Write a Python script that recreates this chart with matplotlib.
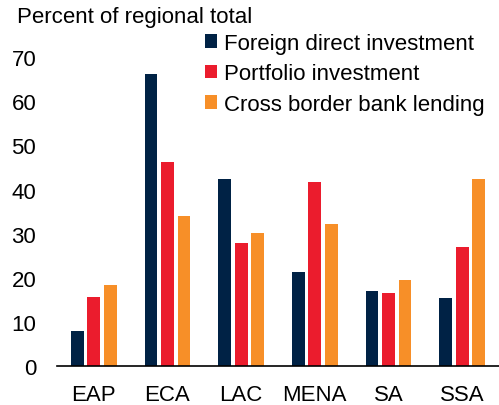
import matplotlib
matplotlib.use("Agg")
import matplotlib.pyplot as plt
import numpy as np

categories = ["EAP", "ECA", "LAC", "MENA", "SA", "SSA"]
series_names = ["Foreign direct investment", "Portfolio investment", "Cross border bank lending"]
fdi = [8.0, 66.1, 42.4, 21.4, 16.9, 15.5]
portfolio = [15.7, 46.2, 27.8, 41.8, 16.6, 27.0]
bank = [18.3, 34.0, 30.2, 32.2, 19.4, 42.4]
yticks = [0, 10, 20, 30, 40, 50, 60, 70]

colors = ["#002245", "#EB1C2D", "#F78F28"]
plt.rcParams['font.family'] = ['Liberation Sans', 'DejaVu Sans']
fs = 16

fig = plt.figure(figsize=(4.99, 4.06), dpi=100)
ax = fig.add_axes([57/499, 39/406, 1 - 57/499, (367 - 58.3)/406])

x = np.arange(len(categories))
w = 0.172
step = 0.226
handles = []
for i, (vals, c, name) in enumerate(zip([fdi, portfolio, bank], colors, series_names)):
    b = ax.bar(x + (i - 1) * step, vals, width=w, color=c, label=name, zorder=2)
    handles.append(b)

ax.set_xlim(-0.5, 5.5)
ax.set_ylim(0, 70)
ax.set_yticks(yticks)
ax.set_xticks(x)
ax.set_xticklabels(categories, fontsize=fs)
ax.tick_params(axis='y', length=0, pad=15, labelsize=fs)
ax.tick_params(axis='x', length=0, pad=13)
for s in ['top', 'right', 'left']:
    ax.spines[s].set_visible(False)
ax.spines['bottom'].set_color('black')
ax.spines['bottom'].set_linewidth(1.2)
ax.spines['bottom'].set_zorder(3)

fig.text(17/499, 1 - 18/406, "Percent of regional total", fontsize=fs, va='center', ha='left')

leg = fig.legend(handles=handles, labels=series_names, loc='upper left',
                 bbox_to_anchor=(205/499, 1 - 34/406), frameon=False, fontsize=fs,
                 handlelength=0.55, handleheight=0.55, handletextpad=0.3,
                 labelspacing=0.42, borderpad=0, borderaxespad=0)

fig.savefig("out.png", dpi=100)
